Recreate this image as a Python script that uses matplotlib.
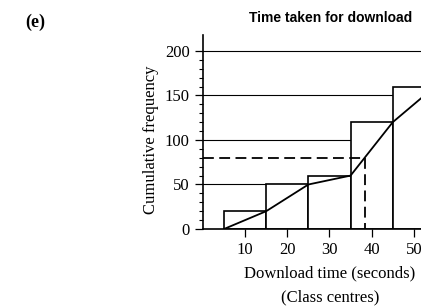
import numpy as np
import matplotlib
matplotlib.use("Agg")
import matplotlib.pyplot as plt

# cumulative frequency of download times
class_lower = [5, 15, 25, 35, 45]
class_width = 10
cum_freq = [20, 50, 60, 120, 160]
curve_x = [5, 15, 25, 35, 45, 55]
curve_y = [0, 20, 50, 60, 120, 160]
median_level = 80
grid_levels = [50, 100, 150, 200]
xticks = [10, 20, 30, 40, 50]
yticks = [0, 50, 100, 150, 200]

# median
median_x = np.interp(median_level, curve_y, curve_x)

serif = "Liberation Serif"

fig = plt.figure(figsize=(4.21, 3.08), dpi=100)
ax = fig.add_axes([0.482, 0.2565, 0.518, 0.63])

for g in grid_levels:
    ax.axhline(g, color="black", lw=0.8, zorder=1)

ax.bar(class_lower, cum_freq, width=class_width, align="edge",
       facecolor="white", edgecolor="black", lw=1.2, zorder=2)
ax.plot(curve_x, curve_y, color="black", lw=1.3, zorder=3)

ax.plot([0, median_x], [median_level, median_level], color="black",
        lw=1.3, dashes=(6, 3), zorder=4)
ax.plot([median_x, median_x], [median_level, 0], color="black",
        lw=1.3, dashes=(6, 3), zorder=4)

ax.set_xlim(0, 51.7)
ax.set_ylim(0, 218)
ax.set_xticks(xticks)
ax.set_yticks(yticks)
ax.set_yticks(np.arange(0, 201, 10), minor=True)
ax.tick_params(axis="y", which="major", length=6, width=0.9)
ax.tick_params(axis="y", which="minor", length=3, width=0.8)
ax.tick_params(axis="x", length=6, width=0.9)
for lab in ax.get_xticklabels() + ax.get_yticklabels():
    lab.set_fontfamily(serif)
    lab.set_fontsize(12)

ax.spines["top"].set_visible(False)
ax.spines["right"].set_visible(False)
ax.spines["left"].set_linewidth(1.2)
ax.spines["bottom"].set_linewidth(1.2)

fig.text(0.358, 0.545, "Cumulative frequency", rotation=90, ha="center",
         va="center", family=serif, fontsize=12)
fig.text(0.784, 0.113, "Download time (seconds)", ha="center", va="center",
         family=serif, fontsize=12)
fig.text(0.784, 0.036, "(Class centres)", ha="center", va="center",
         family=serif, fontsize=12)
fig.text(0.786, 0.940, "Time taken for download", ha="center", va="center",
         family="Liberation Sans", fontweight="bold", fontsize=10)
fig.text(0.083, 0.928, "(e)", ha="center", va="center",
         family=serif, fontweight="bold", fontsize=13)

fig.savefig("out.png", dpi=100)
